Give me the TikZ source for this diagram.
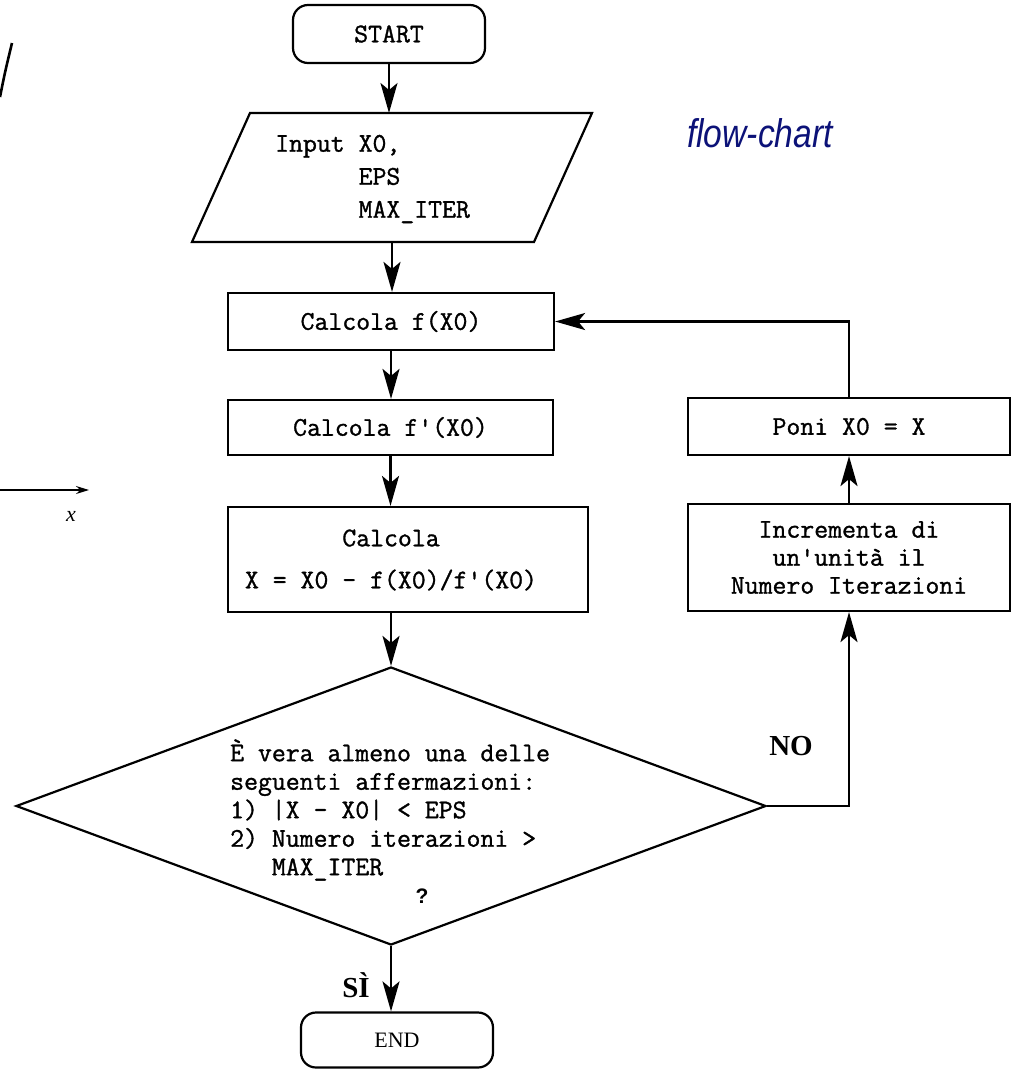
\documentclass[tikz,border=0pt]{standalone}
\usepackage{fontspec}
\setmainfont{Liberation Serif}
\setsansfont{Liberation Sans}
\setmonofont{Latin Modern Mono}[FakeBold=1.2]
\usetikzlibrary{arrows.meta,shapes.geometric}
\definecolor{navy}{RGB}{12,18,120}
\begin{document}
\begin{tikzpicture}[x=1pt,y=-1pt,
  box/.style={draw, line width=2.2pt, inner sep=0pt, font=\ttfamily\fontsize{27}{28}\selectfont, align=center},
  term/.style={box, rounded corners=15pt},
  txt/.style={inner sep=0pt, font=\ttfamily\fontsize{27}{28.5}\selectfont},
  arr/.style={line width=2.2pt, -{Stealth[length=30pt,width=17pt,inset=7pt]}},
  plain/.style={line width=2.2pt},
  lab/.style={inner sep=0pt, font=\bfseries\fontsize{29}{29}\selectfont}
]
\useasboundingbox[fill=white] (0,0) rectangle (1012,1069);

% terminals and boxes
\node[term, minimum width=192pt, minimum height=58pt] (start) at (389,34) {START};

\draw[plain, line join=miter] (250,113) -- (592,113) -- (534,242) -- (192,242) -- cycle;
\coordinate (inpN) at (392,113);
\coordinate (inpS) at (392,242);
\node[txt, anchor=west, align=left, font=\ttfamily\fontsize{27}{33}\selectfont] (inp) at (275,179)
  {Input X0,\\\hphantom{Input }EPS\\\hphantom{Input }MAX\_ITER};

\node[box, minimum width=326pt, minimum height=57pt] (fx) at (391,321.5) {Calcola f(X0)};
\node[box, minimum width=325pt, minimum height=55pt] (fp) at (390.5,427.5) {Calcola f'(X0)};

\node[box, minimum width=360pt, minimum height=105pt] (xb) at (408,559.5) {};
\node[txt, align=center, font=\ttfamily\fontsize{27}{42}\selectfont] (xbt) at (391,560)
  {Calcola\\X = X0 - f(X0)/f'(X0)};

\node[box, minimum width=322pt, minimum height=57pt] (poni) at (849,426.5) {Poni X0 = X};
\node[box, minimum width=322pt, minimum height=107pt] (inc) at (849,557.5)
  {Incrementa di\\un'unità il\\Numero Iterazioni};

\node[draw, diamond, line width=2.2pt, minimum width=750pt, minimum height=278pt, inner sep=0pt] (dec) at (391,806) {};
\node[txt, anchor=west, align=left] (dect) at (230,810)
  {È vera almeno una delle\\seguenti affermazioni:\\1) |X - X0| < EPS\\2) Numero iterazioni >\\\hphantom{2) }MAX\_ITER};
\node[inner sep=0pt, font=\sffamily\bfseries\fontsize{21}{21}\selectfont] (q) at (422,896) {?};

\node[term, minimum width=192pt, minimum height=55pt, font=\rmfamily\fontsize{22}{22}\selectfont] (endn) at (397,1040) {END};

% connectors
\draw[arr] (start.south) -- (start.south |- inpN);
\draw[arr] (inpS) -- (inpS |- fx.north);
\draw[arr] (fx.south) -- (fx.south |- fp.north);
\draw[arr] (fp.south) -- (fp.south |- xb.north);
\draw[arr] (dec.north |- xb.south) -- (dec.north);
\draw[arr] (dec.south) -- (dec.south |- endn.north);
\draw[arr] (dec.east) -| (inc.south);
\draw[arr] (inc.north) -- (poni.south);
\draw[arr] (poni.north) |- (fx.east);

% branch labels
\node[lab] (no) at (791,746) {NO};
\node[lab] (si) at (356,985) {SÌ};

% title
\node[inner sep=0pt, text=navy, font=\sffamily\itshape\fontsize{40}{40}\selectfont] (title) at (760,133)
  {\scalebox{0.84}[1]{flow-chart}};

% fragments of neighbouring figure
\draw[line width=2.6pt] (0,97) .. controls (5,72) .. (12,43);
\coordinate (ax0) at (0,490);
\coordinate (ax1) at (89,490);
\draw[line width=1.6pt, -{Stealth[length=13pt,width=8pt]}] (ax0) -- (ax1);
\node[inner sep=0pt, font=\itshape\fontsize{22}{22}\selectfont] (xl) at (71,516) {x};
\end{tikzpicture}
\end{document}
